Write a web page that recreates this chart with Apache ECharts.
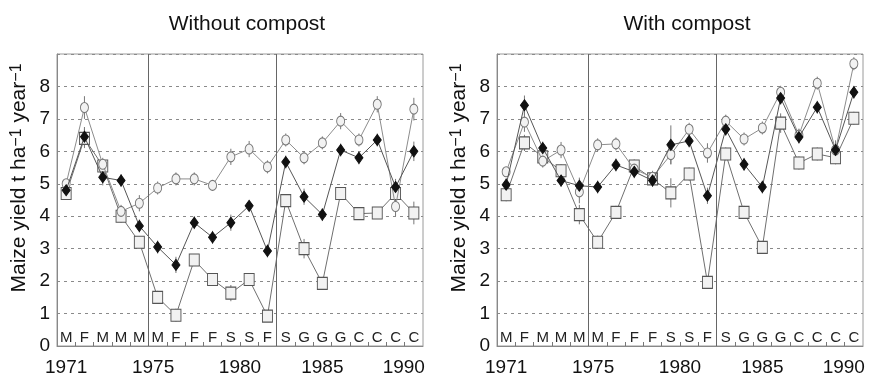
<!DOCTYPE html>
<html>
<head>
<meta charset="utf-8">
<script src="https://cdn.jsdelivr.net/npm/echarts@6/dist/echarts.min.js"></script>
<style>html,body{margin:0;padding:0;background:#fff}#c{width:873px;height:377px}</style>
</head>
<body>
<div id="c"></div>
<script>
const years = [1971,1972,1973,1974,1975,1976,1977,1978,1979,1980,1981,1982,1983,1984,1985,1986,1987,1988,1989,1990];
const cropLetters = ['M','F','M','M','M','M','F','F','F','S','S','F','S','G','G','G','C','C','C','C'];
const yearTickLabels = ['1971','1975','1980','1985','1990'];
const panelTitles = ['Without compost','With compost'];
const periodBreaks = [1975.5, 1982.5];

// Without compost
const noCompostOpen   = [5.0, 7.35, 5.6, 4.15, 4.4, 4.87, 5.15, 5.15, 4.95, 5.83, 6.07, 5.52, 6.35, 5.8, 6.26, 6.93, 6.35, 7.45, 4.3, 7.3];
const noCompostFilled = [4.8, 6.45, 5.2, 5.1, 3.7, 3.05, 2.5, 3.8, 3.35, 3.8, 4.32, 2.93, 5.67, 4.6, 4.05, 6.04, 5.8, 6.35, 4.9, 6.0];
const noCompostSquare = [4.7, 6.4, 5.55, 4.0, 3.2, 1.5, 0.95, 2.65, 2.05, 1.63, 2.05, 0.92, 4.48, 3.0, 1.93, 4.7, 4.08, 4.1, 4.7, 4.1];
const noCompostOpenErr   = [0.15,0.35,0.2,0.2,0.25,0.2,0.2,0.2,0.15,0.25,0.25,0.2,0.2,0.2,0.2,0.25,0.2,0.25,0.3,0.35];
const noCompostFilledErr = [0.15,0.3,0.25,0.2,0.2,0.2,0.25,0.2,0.2,0.25,0.15,0.2,0.2,0.25,0.2,0.2,0.2,0.2,0.25,0.3];
const noCompostSquareErr = [0.2,0.3,0.2,0.2,0.15,0.2,0.2,0.15,0.15,0.25,0.15,0.15,0.2,0.3,0.2,0.2,0.15,0.15,0.3,0.35];
// With compost
const compostOpen   = [5.37, 6.9, 5.7, 6.04, 4.75, 6.2, 6.23, 5.45, 5.2, 5.9, 6.68, 5.95, 6.93, 6.38, 6.72, 7.82, 6.5, 8.1, 6.04, 8.7];
const compostFilled = [4.97, 7.42, 6.1, 5.1, 4.94, 4.9, 5.58, 5.37, 5.1, 6.2, 6.32, 4.63, 6.68, 5.6, 4.9, 7.64, 6.44, 7.36, 6.04, 7.82];
const compostSquare = [4.66, 6.26, 5.83, 5.4, 4.05, 3.2, 4.12, 5.55, 5.15, 4.72, 5.3, 1.96, 5.92, 4.12, 3.04, 6.87, 5.64, 5.92, 5.8, 7.02];
const compostOpenErr   = [0.15,0.3,0.2,0.25,0.35,0.2,0.2,0.2,0.2,0.3,0.2,0.3,0.2,0.2,0.2,0.2,0.2,0.2,0.3,0.2];
const compostFilledErr = [0.2,0.3,0.2,0.2,0.25,0.2,0.2,0.2,0.2,0.6,0.2,0.25,0.2,0.2,0.2,0.2,0.2,0.2,0.2,0.2];
const compostSquareErr = [0.2,0.25,0.2,0.2,0.3,0.2,0.2,0.2,0.2,0.45,0.2,0.2,0.2,0.2,0.2,0.3,0.2,0.2,0.2,0.2];

const yearLabelPos = [1971, 1975.75, 1980.5, 1985, 1989.45];
const halfYears = years.slice(0, -1).map(y => y + 0.5);
const font = 'Liberation Sans, Arial, sans-serif';

const grids = [
  {left: 57, top: 54, width: 366, height: 293, show: true, borderColor: '#9a9a9a', borderWidth: 1},
  {left: 497, top: 54, width: 366, height: 293, show: true, borderColor: '#9a9a9a', borderWidth: 1}
];

const xAxes = [], yAxes = [];
[0,1].forEach(g => {
  xAxes.push({
    type: 'value', gridIndex: g, min: 1970.5, max: 1990.5,
    axisLine: {lineStyle: {color: '#888', width: 1}},
    axisTick: {show: true, inside: true, length: 4, customValues: halfYears, lineStyle: {color: '#777'}},
    axisLabel: {inside: true, margin: 1, customValues: years, color: '#222', fontSize: 15, fontFamily: font,
      formatter: v => cropLetters[years.indexOf(Math.round(v))] || ''},
    splitLine: {show: false}
  });
  xAxes.push({
    type: 'value', gridIndex: g, min: 1970.5, max: 1990.5, position: 'bottom',
    axisLine: {show: false}, axisTick: {show: false}, splitLine: {show: false},
    axisLabel: {customValues: yearLabelPos, margin: 12, color: '#111', fontSize: 19, fontFamily: font,
      formatter: v => yearTickLabels[yearLabelPos.indexOf(v)]}
  });
  yAxes.push({
    type: 'value', gridIndex: g, min: 0, max: 9, interval: 1,
    name: 'Maize yield t ha{sup|−1} year{sup|−1}', nameLocation: 'middle', nameGap: 27, nameRotate: 90,
    nameTextStyle: {fontSize: 21, color: '#111', fontFamily: font, padding: [0,0,0,44],
      rich: {sup: {fontSize: 16, verticalAlign: 'top', color: '#111', fontFamily: font}}},
    axisLine: {show: true, lineStyle: {color: '#888'}},
    axisTick: {show: false},
    axisLabel: {fontSize: 19, color: '#111', fontFamily: font, margin: 7, formatter: v => v === 9 ? '' : String(v)},
    splitLine: {show: true, lineStyle: {color: '#8a8a8a', type: [3,4], width: 1}}
  });
});

function mk(vals, g, kind) {
  const styles = {
    open:   {symbol: 'circle', symbolSize: [8,10], fill: '#f2f2f2', border: '#777', line: '#8c8c8c', z: 3},
    filled: {symbol: 'diamond', symbolSize: [8,11], fill: '#111', border: '#111', line: '#555', z: 4},
    square: {symbol: 'rect', symbolSize: [10,12], fill: '#f2f2f2', border: '#555', line: '#6f6f6f', z: 2}
  }[kind];
  return {
    type: 'line', xAxisIndex: g*2, yAxisIndex: g,
    data: years.map((y, i) => [y, vals[i]]),
    symbol: styles.symbol, symbolSize: styles.symbolSize, showSymbol: true,
    lineStyle: {color: styles.line, width: 1},
    itemStyle: {color: styles.fill, borderColor: styles.border, borderWidth: 1},
    z: styles.z, animation: false, silent: true
  };
}

function errBars(vals, errs, g) {
  return {
    type: 'custom', xAxisIndex: g*2, yAxisIndex: g, silent: true, z: 1,
    data: years.map((y, i) => [y, vals[i] - errs[i], vals[i] + errs[i]]),
    renderItem: (params, api) => {
      const a = api.coord([api.value(0), api.value(1)]);
      const b = api.coord([api.value(0), api.value(2)]);
      return {type: 'line', shape: {x1: a[0], y1: a[1], x2: b[0], y2: b[1]},
        style: {stroke: '#777', lineWidth: 1}};
    }
  };
}

const series = [
  mk(noCompostSquare, 0, 'square'), mk(noCompostOpen, 0, 'open'), mk(noCompostFilled, 0, 'filled'),
  mk(compostSquare, 1, 'square'), mk(compostOpen, 1, 'open'), mk(compostFilled, 1, 'filled'),
  errBars(noCompostSquare, noCompostSquareErr, 0), errBars(noCompostOpen, noCompostOpenErr, 0), errBars(noCompostFilled, noCompostFilledErr, 0),
  errBars(compostSquare, compostSquareErr, 1), errBars(compostOpen, compostOpenErr, 1), errBars(compostFilled, compostFilledErr, 1)
];
[0, 3].forEach(i => {
  series[i].markLine = {silent: true, symbol: 'none', label: {show: false},
    lineStyle: {color: '#666', type: 'solid', width: 1},
    data: periodBreaks.map(b => ({xAxis: b}))};
});

const chart = echarts.init(document.getElementById('c'));
chart.setOption({
  animation: false,
  title: panelTitles.map((t, i) => ({text: t, left: [242, 682][i], top: 9, textAlign: 'center',
    textStyle: {fontSize: 21, fontWeight: 'normal', color: '#111', fontFamily: font}})),
  grid: grids,
  xAxis: xAxes,
  yAxis: yAxes,
  series: series
});
</script>
</body>
</html>
